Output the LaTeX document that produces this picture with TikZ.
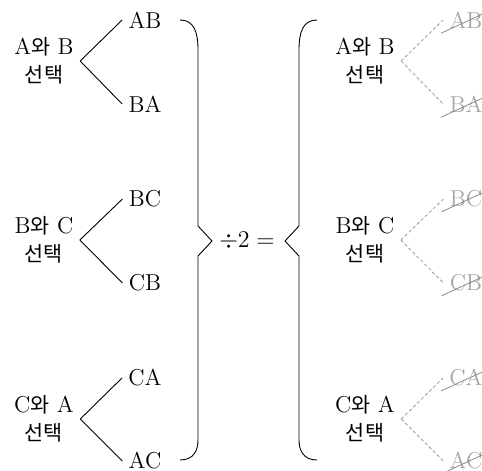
\documentclass[tikz,border=0pt]{standalone}
\usepackage{fontspec}
\newfontfamily\kr[Scale=0.9]{Noto Sans CJK KR}

\tikzset{
  pick/.style={align=center, font=\fontsize{11.5}{14}\selectfont, inner sep=3pt},
  pair/.style={font=\fontsize{11.5}{14}\selectfont, inner sep=3pt},
  gone/.style={pair, text=black!35},
  ghost/.style={draw=black!40, line width=0.4pt, dash pattern=on 1.6pt off 1.2pt},
  strike/.style={draw=black!45, line width=0.4pt}
}

\begin{document}
\begin{tikzpicture}[x=0.5pt, y=-0.5pt, line width=0.45pt]
          \useasboundingbox (0,0) rectangle (482,471);

          % nodes
          \node[pick] at (44,61)  (p1) {A{\kr 와} B\\{\kr 선택}};
          \node[pick] at (44,240) (p2) {B{\kr 와} C\\{\kr 선택}};
          \node[pick] at (44,419) (p3) {C{\kr 와} A\\{\kr 선택}};
          \node[pair] at (145,20)  (ab) {AB};
          \node[pair] at (145,104) (ba) {BA};
          \node[pair] at (145,199) (bc) {BC};
          \node[pair] at (145,283) (cb) {CB};
          \node[pair] at (145,378) (ca) {CA};
          \node[pair] at (145,461) (ac) {AC};

          \node[pair] at (247,241) (div) {$\div 2 =$};

          \node[pick] at (365,61)  (q1) {A{\kr 와} B\\{\kr 선택}};
          \node[pick] at (365,240) (q2) {B{\kr 와} C\\{\kr 선택}};
          \node[pick] at (365,419) (q3) {C{\kr 와} A\\{\kr 선택}};
          \node[gone] at (466,20)  (xab) {AB};
          \node[gone] at (466,104) (xba) {BA};
          \node[gone] at (466,199) (xbc) {BC};
          \node[gone] at (466,283) (xcb) {CB};
          \node[gone] at (466,378) (xca) {CA};
          \node[gone] at (466,461) (xac) {AC};

          % arcs
          \draw
          (p1.east) edge (ab.west)
          (p1.east) edge (ba.west)
          (p2.east) edge (bc.west)
          (p2.east) edge (cb.west)
          (p3.east) edge (ca.west)
          (p3.east) edge (ac.west)
          ;
          \draw[ghost]
          (q1.east) edge (xab.west)
          (q1.east) edge (xba.west)
          (q2.east) edge (xbc.west)
          (q2.east) edge (xcb.west)
          (q3.east) edge (xca.west)
          (q3.east) edge (xac.west)
          ;

          % crossing out
          \foreach \n in {xab,xba,xbc,xcb,xca,xac}
            \draw[strike] ([shift={(-1pt,-2.5pt)}]\n.base west) -- ([shift={(2pt,-2pt)}]\n.north east);

          % braces
          \draw (180,20) .. controls (194,20) and (198,32) .. (198,50)
                -- (198,226) -- (212,241) -- (198,256) -- (198,440)
                .. controls (198,450) and (194,460) .. (180,460);
          \draw (317,20) .. controls (303,20) and (299,32) .. (299,50)
                -- (299,226) -- (285,241) -- (299,256) -- (299,440)
                .. controls (299,450) and (303,460) .. (317,460);
        \end{tikzpicture}
\end{document}
